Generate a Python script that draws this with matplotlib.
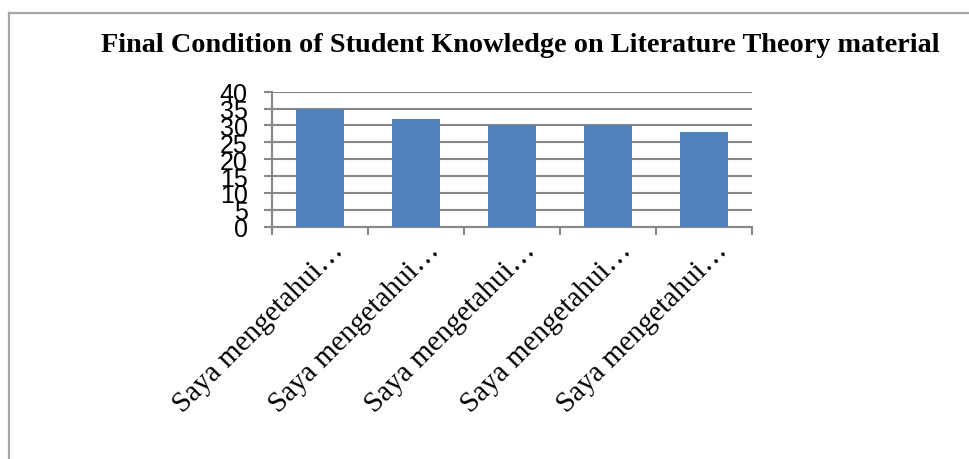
import matplotlib.pyplot as plt
from matplotlib.lines import Line2D
import matplotlib.transforms as mtransforms
import numpy as np

TITLE = "Final Condition of Student Knowledge on Literature Theory material"
CATEGORIES = ["Saya mengetahui\u2026"] * 5
VALUES = [35, 32, 30, 30, 28]
Y_TICKS = [0, 5, 10, 15, 20, 25, 30, 35, 40]

BAR_COLOR = "#4F81BD"
GRID_COLOR = "#878787"


def main() -> None:
    fig = plt.figure(figsize=(9.69, 4.6), dpi=100)
    ax = fig.add_axes([0.2807, 0.505, 0.4954, 0.2935])

    x = np.arange(len(VALUES))
    ax.bar(x, VALUES, width=0.5, color=BAR_COLOR, zorder=3)
    ax.set_xlim(-0.5, len(VALUES) - 0.5)
    ax.set_ylim(0, 40)

    ax.set_yticks(Y_TICKS)
    ax.set_yticklabels([str(v) for v in Y_TICKS], family="Liberation Sans", fontsize=18)
    ax.yaxis.grid(True, color=GRID_COLOR, linewidth=1.5, zorder=0)
    ax.tick_params(axis="y", length=5.5, width=1.5, color=GRID_COLOR, pad=12)

    # category labels centred on bars, tick marks on the boundaries
    ax.set_xticks(x)
    ax.set_xticklabels(CATEGORIES, family="Liberation Serif", fontsize=21,
                       rotation=45, ha="right", va="top", rotation_mode="anchor")
    ax.tick_params(axis="x", which="major", length=0, pad=7)
    shift = mtransforms.ScaledTranslation(10 / 100, 0, fig.dpi_scale_trans)
    for label in ax.get_xticklabels():
        label.set_transform(label.get_transform() + shift)
    ax.set_xticks(np.arange(-0.5, len(VALUES)), minor=True)
    ax.tick_params(axis="x", which="minor", length=6, width=1.5, color=GRID_COLOR)

    for side in ("top", "right"):
        ax.spines[side].set_visible(False)
    for side in ("left", "bottom"):
        ax.spines[side].set_color(GRID_COLOR)
        ax.spines[side].set_linewidth(1.5)

    fig.text(0.537, 0.902, TITLE, ha="center", va="center",
             family="Liberation Serif", fontweight="bold", fontsize=20.3)

    # frame of the embedded chart (only top and left edges are visible)
    fig.add_artist(Line2D([9 / 969, 1.0], [1 - 14 / 460, 1 - 14 / 460],
                          transform=fig.transFigure, color="#a6a6a6", linewidth=1.6))
    fig.add_artist(Line2D([9 / 969, 9 / 969], [0.0, 1 - 14 / 460],
                          transform=fig.transFigure, color="#a6a6a6", linewidth=1.6))

    fig.savefig("out.png", dpi=100)
    plt.close(fig)


if __name__ == "__main__":
    main()
